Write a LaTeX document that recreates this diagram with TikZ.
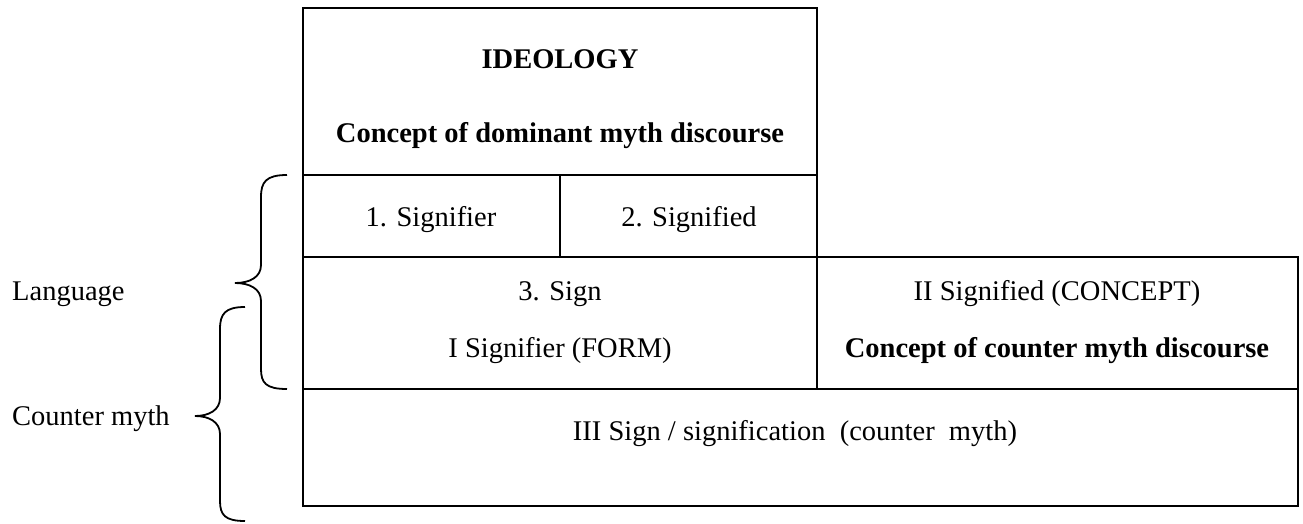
\documentclass[tikz,border=0pt]{standalone}
\usepackage{fontspec}
\setmainfont{Liberation Serif}
\tikzset{
    cell/.style = {draw, line width=2pt},
    curly/.style = {draw, line width=1.8pt},
    txt/.style = {anchor=base, inner sep=0pt, font=\fontsize{28.5}{34}\selectfont},
    btxt/.style = {txt, font=\fontsize{28.5}{34}\selectfont\bfseries},
    side/.style = {txt, anchor=base west}
}

\begin{document}
\begin{tikzpicture}[x=1pt,y=-1pt]
        \useasboundingbox (0,0) rectangle (1303,523);

        % grid of cells
        \draw[cell] (303,8) rectangle (817,175);
        \draw[cell] (303,175) rectangle (560,257);
        \draw[cell] (560,175) rectangle (817,257);
        \draw[cell] (303,257) rectangle (817,389);
        \draw[cell] (817,257) rectangle (1298,389);
        \draw[cell] (303,389) rectangle (1298,506);

        \node[btxt] (ideology) at (560,68) {IDEOLOGY};
        \node[btxt] (dominant) at (560,142) {Concept of dominant myth discourse};
        \node[txt] (signifier) at (431,226) {1. Signifier};
        \node[txt] (signified) at (689,226) {2. Signified};
        \node[txt] (sign) at (560,300) {3. Sign};
        \node[txt] (form) at (560,357) {I Signifier (FORM)};
        \node[txt] (concept) at (1057,300) {II Signified (CONCEPT)};
        \node[btxt] (counter) at (1057,357) {Concept of counter myth discourse};
        \node[txt] (signification) at (795,440) {III Sign / signification\ \ (counter\ \ myth)};

        \node[side] (language) at (12,300) {Language};
        \node[side] (countermyth) at (12,425) {Counter myth};

        % braces
        \coordinate (lt) at (287,175);
        \coordinate (lb) at (287,389);
        \coordinate (ltip) at (235,283);
        \coordinate (ct) at (245,307);
        \coordinate (cb) at (245,521);
        \coordinate (ctip) at (195,416);

        \path[curly] (lt) .. controls (266,175) and (261,182) .. (261,197)
            -- (261,265) .. controls (261,277) and (250,283) .. (ltip)
            .. controls (250,283) and (261,289) .. (261,301)
            -- (261,369) .. controls (261,383) and (266,389) .. (lb);
        \path[curly] (ct) .. controls (225,307) and (220,314) .. (220,329)
            -- (220,398) .. controls (220,410) and (209,416) .. (ctip)
            .. controls (209,416) and (220,422) .. (220,434)
            -- (220,501) .. controls (220,515) and (225,521) .. (cb);
\end{tikzpicture}
\end{document}
